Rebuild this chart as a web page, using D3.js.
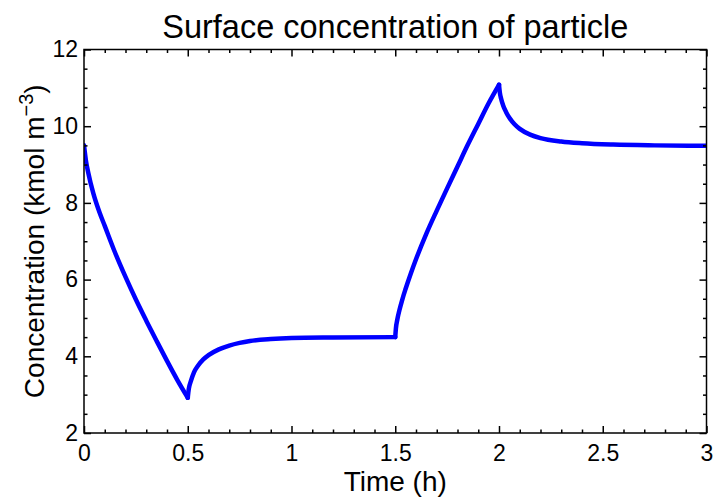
<!DOCTYPE html>
<html>
<head>
<meta charset="utf-8">
<script src="https://cdn.jsdelivr.net/npm/d3@7"></script>
<style>
  body { margin: 0; background: #fff; }
  svg text { font-family: "Liberation Sans", Arial, Helvetica, sans-serif; fill: #000; }
</style>
</head>
<body>
<svg id="chart" width="726" height="500"></svg>
<script>
// values, one array pair per piece of the curve
let seg1Time = [0, 0.01, 0.02, 0.045, 0.075, 0.1, 0.15, 0.2, 0.25, 0.3, 0.35, 0.4, 0.45, 0.5];
let seg1Conc = [9.5, 9.08, 8.8, 8.25, 7.75, 7.4, 6.7, 6.07, 5.48, 4.93, 4.4, 3.88, 3.38, 2.92];
let seg2Time = [0.5, 0.505, 0.515, 0.53, 0.55, 0.575, 0.6, 0.65, 0.7, 0.75, 0.8, 0.9, 1.0, 1.2, 1.5];
let seg2Conc = [2.92, 3.15, 3.35, 3.58, 3.76, 3.92, 4.03, 4.18, 4.28, 4.35, 4.40, 4.45, 4.475, 4.49, 4.5];
let seg3Time = [1.5, 1.503, 1.51, 1.52, 1.535, 1.55, 1.575, 1.6, 1.65, 1.7, 1.75, 1.8, 1.85, 1.9, 1.95, 2.0];
let seg3Conc = [4.5, 4.72, 4.96, 5.2, 5.5, 5.76, 6.16, 6.53, 7.2, 7.8, 8.38, 8.95, 9.52, 10.06, 10.6, 11.08];
let seg4Time = [2.0, 2.004, 2.01, 2.02, 2.035, 2.05, 2.075, 2.1, 2.15, 2.2, 2.3, 2.4, 2.55, 2.75, 3.0];
let seg4Conc = [11.08, 10.88, 10.72, 10.54, 10.36, 10.22, 10.05, 9.93, 9.78, 9.69, 9.6, 9.555, 9.52, 9.5, 9.49];

let xTicks = [0, 0.5, 1, 1.5, 2, 2.5, 3];
let yTicks = [2, 4, 6, 8, 10, 12];

let title = "Surface concentration of particle";
let xLabel = "Time (h)";

function drawConcChart(holder){
  let margin = {"left": 84, "top": 49.5, "bottom": 67, "right": 19.5};
  let width = 726;
  let height = 500;
  let svg = d3.select(holder);

  let x = d3.scaleLinear()
    .domain([0, 3])
    .range([margin.left, width - margin.right]);
  let y = d3.scaleLinear()
    .domain([2, 12])
    .range([height - margin.bottom, margin.top]);

  let xMinor = d3.range(0, 3.0001, 0.1).map(d => +d.toFixed(1)).filter(d => !xTicks.includes(d));
  let yMinor = d3.range(2, 12.0001, 0.5).filter(d => !yTicks.includes(d));

  svg.append("clipPath").attr("id", "plotclip")
    .append("rect")
    .attr("x", x.range()[0]).attr("y", y.range()[1])
    .attr("width", x.range()[1] - x.range()[0])
    .attr("height", y.range()[0] - y.range()[1]);

  let segments = [
    d3.zip(seg1Time, seg1Conc),
    d3.zip(seg2Time, seg2Conc),
    d3.zip(seg3Time, seg3Conc),
    d3.zip(seg4Time, seg4Conc)
  ];

  let line = d3.line()
    .x(d => x(d[0]))
    .y(d => y(d[1]))
    .curve(d3.curveMonotoneX);

  svg.append("g").attr("clip-path", "url(#plotclip)")
    .selectAll("path")
    .data(segments)
    .join("path")
    .attr("d", line)
    .attr("fill", "none")
    .attr("stroke", "#0000ff")
    .attr("stroke-width", 4.5)
    .attr("stroke-linejoin", "round")
    .attr("stroke-linecap", "round");

  let bottom = height - margin.bottom;
  let right = width - margin.right;

  function addAxis(axis, tx, ty){
    let g = svg.append("g")
      .attr("transform", "translate(" + tx + "," + ty + ")")
      .call(axis);
    g.select(".domain").remove();
    g.selectAll(".tick line").attr("stroke", "#000").attr("stroke-width", 1.5);
    return g;
  }

  // major ticks with labels
  let xg = addAxis(d3.axisBottom(x).tickValues(xTicks).tickSize(-7).tickPadding(12)
    .tickFormat(d3.format("")), 0, bottom);
  let yg = addAxis(d3.axisLeft(y).tickValues(yTicks).tickSize(-7).tickPadding(6)
    .tickFormat(d3.format("")), margin.left, 0);
  xg.selectAll("text").attr("font-size", 23);
  yg.selectAll("text").attr("font-size", 23);

  // opposite sides and minor ticks, no labels
  addAxis(d3.axisTop(x).tickValues(xTicks).tickSize(-7).tickFormat(""), 0, margin.top);
  addAxis(d3.axisRight(y).tickValues(yTicks).tickSize(-7).tickFormat(""), right, 0);
  addAxis(d3.axisBottom(x).tickValues(xMinor).tickSize(-3.5).tickFormat(""), 0, bottom);
  addAxis(d3.axisTop(x).tickValues(xMinor).tickSize(-3.5).tickFormat(""), 0, margin.top);
  addAxis(d3.axisLeft(y).tickValues(yMinor).tickSize(-3.5).tickFormat(""), margin.left, 0);
  addAxis(d3.axisRight(y).tickValues(yMinor).tickSize(-3.5).tickFormat(""), right, 0);

  svg.append("rect")
    .attr("x", margin.left).attr("y", margin.top)
    .attr("width", right - margin.left)
    .attr("height", bottom - margin.top)
    .attr("fill", "none")
    .attr("stroke", "#000")
    .attr("stroke-width", 1.5);

  svg.append("text")
    .attr("x", (margin.left + right) / 2)
    .attr("y", 38)
    .attr("text-anchor", "middle")
    .attr("font-size", 32.5)
    .text(title);

  svg.append("text")
    .attr("x", (margin.left + right) / 2)
    .attr("y", 491)
    .attr("text-anchor", "middle")
    .attr("font-size", 28)
    .text(xLabel);

  let yl = svg.append("text")
    .attr("transform", "translate(44," + (margin.top + bottom) / 2 + ") rotate(-90)")
    .attr("text-anchor", "middle")
    .attr("font-size", 28);
  yl.append("tspan").text("Concentration (kmol m");
  yl.append("tspan").attr("dy", -11).attr("font-size", 20).text("\u22123");
  yl.append("tspan").attr("dy", 11).text(")");
}

drawConcChart("#chart");
</script>
</body>
</html>
